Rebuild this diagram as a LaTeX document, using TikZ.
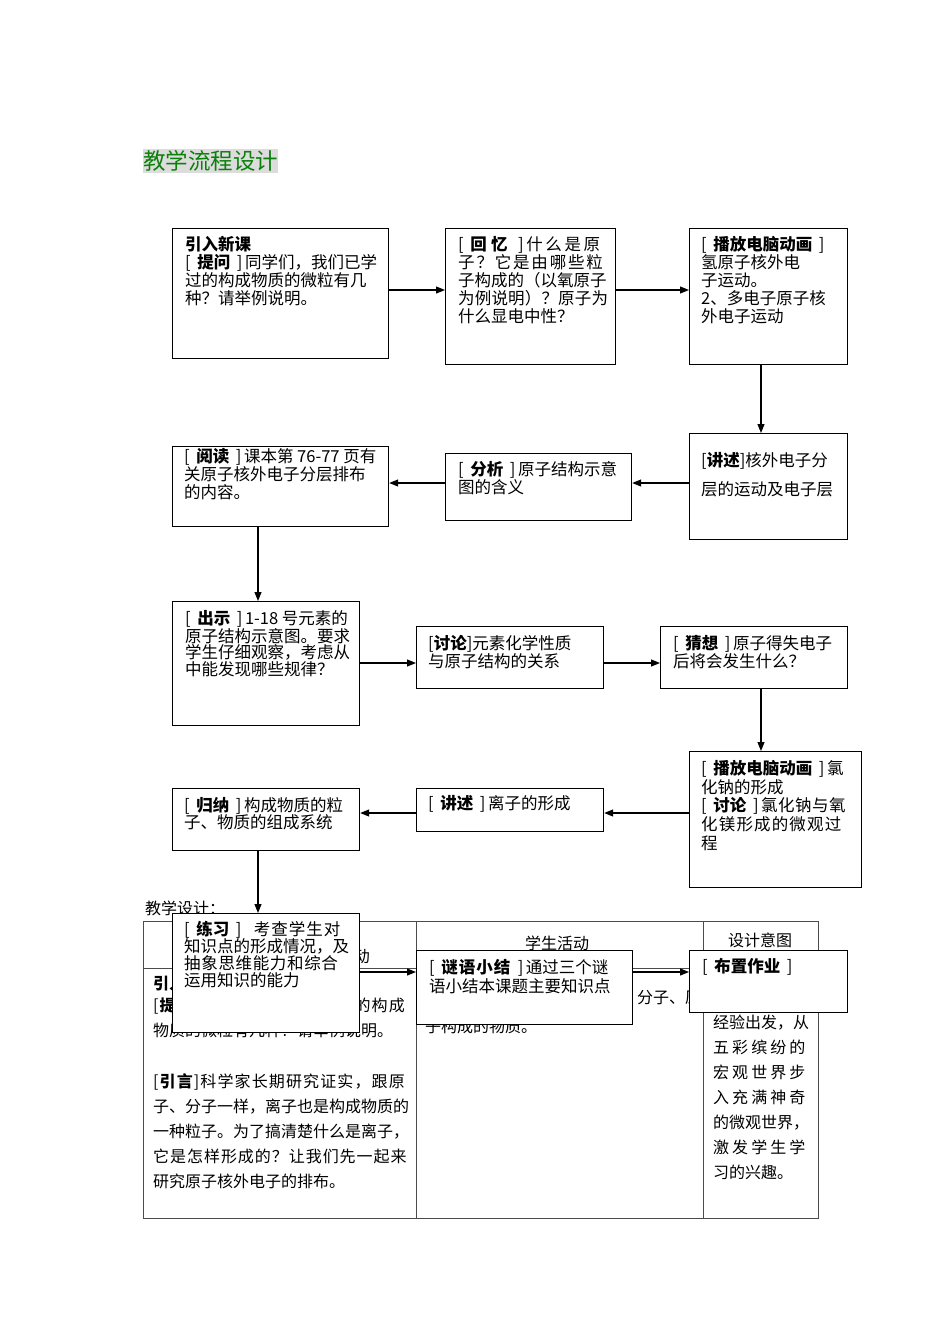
\documentclass[tikz,border=0pt]{standalone}
\usepackage{fontspec}
\setmainfont{Noto Sans CJK SC}
\usetikzlibrary{arrows.meta}
\definecolor{titrevert}{RGB}{10,128,10}
\definecolor{surligne}{RGB}{220,220,220}
\tikzset{
  cadre/.style={draw, line width=1.2pt, fill=white, anchor=north west, inner sep=0pt},
  texte/.style={anchor=north west, align=left, inner sep=0pt, font=\fontsize{16.5}{18}\selectfont},
  tabtexte/.style={anchor=north west, align=left, inner sep=0pt, font=\fontsize{16}{25}\selectfont},
  fleche/.style={line width=1.1pt, -{Triangle[length=9pt,width=7pt]}},
  trait/.style={line width=0.9pt, black!70}
}
\newcommand{\etire}[2]{{\addfontfeature{LetterSpace=#1}#2}}
\newcommand{\crochet}[1]{[\hspace{0.4em}\textbf{#1}\hspace{0.4em}]\hspace{0.15em}}
\begin{document}
\begin{tikzpicture}[x=1pt,y=-1pt]
    \useasboundingbox (0,0) rectangle (950,1344);

    % Titre
    \fill[surligne] (143,149) rectangle (278,173);
    \node[anchor=west, inner sep=0pt, text=titrevert, font=\fontsize{22.5}{24}\selectfont] (titre) at (143,161) {教学流程设计};

    % Tableau (en dessous)
    \node[tabtexte, anchor=west] (legende) at (145,908) {教学设计：};
    \draw[trait] (143,921) rectangle (818,1218);
    \draw[trait] (143,968) -- (818,968);
    \draw[trait] (416,921) -- (416,1218);
    \draw[trait] (703,921) -- (703,1218);
    \node[tabtexte, anchor=east] (teteprof) at (370,956) {教师活动};
    \node[tabtexte, anchor=center] (teteeleve) at (557,943) {学生活动};
    \node[tabtexte, anchor=center] (tetebut) at (760,940) {设计意图};
    \node[tabtexte, anchor=west] (prof1) at (153,983) {\textbf{引入新课}};
    \node[tabtexte] (prof2) at (153,998) {\etire{7}{[\textbf{提问}]同学们，我们已学过的构成}\\
        物质的微粒有几种？请举例说明。};
    \node[tabtexte] (prof3) at (153,1073) {\etire{7}{[\textbf{引言}]科学家长期研究证实，跟原}\\
        子、分子一样，离子也是构成物质的\\
        一种粒子。为了搞清楚什么是离子，\\
        \etire{6}{它是怎样形成的？让我们先一起来}\\
        研究原子核外电子的排布。};
    \node[tabtexte, anchor=west] (eleve1) at (637,998) {分子、原};
    \node[tabtexte, anchor=west] (eleve2) at (425,1026) {子构成的物质。};
    \node[tabtexte] (but) at (713,1015) {经验出发，从\\
        \etire{19}{五彩缤纷的}\\
        \etire{19}{宏观世界步}\\
        \etire{19}{入充满神奇}\\
        的微观世界，\\
        \etire{19}{激发学生学}\\
        习的兴趣。};

    % Cadres
    \node[cadre, minimum width=216pt, minimum height=130pt] (intro) at (172,228) {};
    \node[texte] (introtxt) at (185,236) {\textbf{引入新课}\\
        \crochet{提问}同学们，我们已学\\
        过的构成物质的微粒有几\\
        种？请举例说明。};
    \node[cadre, minimum width=170pt, minimum height=136pt] (rappel) at (445,228) {};
    \node[texte] (rappeltxt) at (458,236) {\crochet{\etire{25}{回忆}}\etire{16}{什么是原}\\
        \etire{11}{子？它是由哪些粒}\\
        子构成的（以氧原子\\
        \etire{1}{为例说明）？原子为}\\
        什么显电中性？};
    \node[cadre, minimum width=158pt, minimum height=136pt] (anim1) at (689,228) {};
    \node[texte] (anim1txt) at (701,236) {\crochet{播放电脑动画}\\
        氢原子核外电\\
        子运动。\\
        2、多电子原子核\\
        外电子运动};

    \node[cadre, minimum width=158pt, minimum height=106pt] (expose1) at (689,433) {};
    \node[texte] (expose1txt) at (701,452) {[\textbf{讲述}]核外电子分\\[11pt]
        层的运动及电子层};
    \node[cadre, minimum width=186pt, minimum height=67pt] (analyse) at (445,453) {};
    \node[texte] (analysetxt) at (458,461) {\crochet{分析}原子结构示意\\
        图的含义};
    \node[cadre, minimum width=216pt, minimum height=80pt] (lecture) at (172,446) {};
    \node[texte] (lecturetxt) at (184,448) {\crochet{阅读}课本第 76-77 页有\\
        关原子核外电子分层排布\\
        的内容。};

    \node[cadre, minimum width=187pt, minimum height=124pt] (montre) at (172,601) {};
    \node[texte, font=\fontsize{16.5}{16.8}\selectfont] (montretxt) at (185,610) {\crochet{出示}1-18 号元素的\\
        原子结构示意图。要求\\
        学生仔细观察，考虑从\\
        中能发现哪些规律？};
    \node[cadre, minimum width=187pt, minimum height=62pt] (discute) at (416,626) {};
    \node[texte] (discutetxt) at (428,635) {[\textbf{讨论}]元素化学性质\\
        与原子结构的关系};
    \node[cadre, minimum width=187pt, minimum height=62pt] (conjecture) at (660,626) {};
    \node[texte] (conjecturetxt) at (673,635) {\crochet{猜想}原子得失电子\\
        后将会发生什么？};

    \node[cadre, minimum width=172pt, minimum height=136pt] (anim2) at (689,751) {};
    \node[texte, font=\fontsize{16.5}{18.7}\selectfont] (anim2txt) at (701,760) {\crochet{播放电脑动画}氯\\
        化钠的形成\\
        \crochet{讨论}\etire{3}{氯化钠与氧}\\
        \etire{7}{化镁形成的微观过}\\
        程};
    \node[cadre, minimum width=187pt, minimum height=43pt] (expose2) at (416,788) {};
    \node[texte, anchor=west] (expose2txt) at (428,804) {\crochet{讲述}离子的形成};
    \node[cadre, minimum width=187pt, minimum height=62pt] (bilan) at (172,788) {};
    \node[texte, font=\fontsize{16.5}{17}\selectfont] (bilantxt) at (184,797) {\crochet{归纳}构成物质的粒\\
        子、物质的组成系统};

    \node[cadre, minimum width=187pt, minimum height=119pt] (exercice) at (172,913) {};
    \node[texte, font=\fontsize{16.5}{17}\selectfont] (exercicetxt) at (184,921) {\crochet{练习}\hspace{0.6em}\etire{6}{考查学生对}\\
        知识点的形成情况，及\\
        \etire{4}{抽象思维能力和综合}\\
        运用知识的能力};
    \node[cadre, minimum width=216pt, minimum height=74pt] (enigme) at (416,950) {};
    \node[texte, font=\fontsize{16.5}{19}\selectfont] (enigmetxt) at (429,959) {\crochet{\etire{6}{谜语小结}}通过三个谜\\
        语小结本课题主要知识点};
    \node[cadre, minimum width=158pt, minimum height=62pt] (devoirs) at (689,950) {};
    \node[texte, anchor=west] (devoirstxt) at (702,967) {\crochet{布置作业}};

    % Fleches
    \draw[fleche] (intro.east |- 0,290) -- (rappel.west |- 0,290);
    \draw[fleche] (rappel.east |- 0,290) -- (anim1.west |- 0,290);
    \draw[fleche] (anim1.south -| 761,0) -- (expose1.north -| 761,0);
    \draw[fleche] (expose1.west |- 0,483) -- (analyse.east |- 0,483);
    \draw[fleche] (analyse.west |- 0,483) -- (lecture.east |- 0,483);
    \draw[fleche] (lecture.south -| 258,0) -- (montre.north -| 258,0);
    \draw[fleche] (montre.east |- 0,663) -- (discute.west |- 0,663);
    \draw[fleche] (discute.east |- 0,663) -- (conjecture.west |- 0,663);
    \draw[fleche] (conjecture.south -| 761,0) -- (anim2.north -| 761,0);
    \draw[fleche] (anim2.west |- 0,813) -- (expose2.east |- 0,813);
    \draw[fleche] (expose2.west |- 0,813) -- (bilan.east |- 0,813);
    \draw[fleche] (bilan.south -| 258,0) -- (exercice.north -| 258,0);
    \draw[fleche] (exercice.east |- 0,972) -- (enigme.west |- 0,972);
    \draw[fleche] (enigme.east |- 0,972) -- (devoirs.west |- 0,972);

\end{tikzpicture}
\end{document}
